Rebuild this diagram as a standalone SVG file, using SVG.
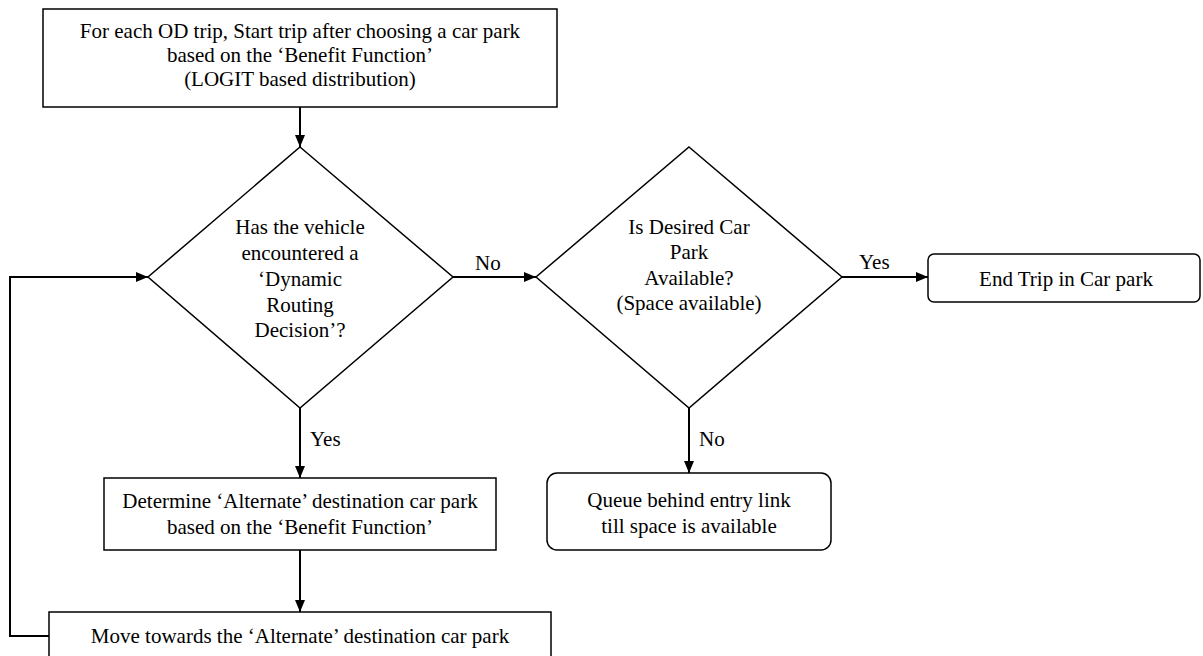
<svg xmlns="http://www.w3.org/2000/svg" width="1203" height="656" viewBox="0 0 1203 656">
<style>
.box{fill:#fff;stroke:#000;stroke-width:1.5}
.ln{fill:none;stroke:#000;stroke-width:2}
text{font-family:"Liberation Serif","Times New Roman",serif;font-size:21px;fill:#000;text-anchor:middle}
.lbl{text-anchor:start}
</style>
<defs>
<marker id="ah" viewBox="0 0 12 10" refX="12" refY="5" markerWidth="12" markerHeight="10" markerUnits="userSpaceOnUse" orient="auto"><path d="M0,0L12,5L0,10z" fill="#000"/></marker>
</defs>
<rect width="1203" height="656" fill="#fff"/>
<g id="connectors">
<line class="ln" x1="300" y1="107" x2="300" y2="147" marker-end="url(#ah)"/>
<line class="ln" x1="453" y1="277" x2="536" y2="277" marker-end="url(#ah)"/>
<line class="ln" x1="842" y1="277" x2="928" y2="277" marker-end="url(#ah)"/>
<line class="ln" x1="300" y1="408" x2="300" y2="478" marker-end="url(#ah)"/>
<line class="ln" x1="689" y1="408" x2="689" y2="473" marker-end="url(#ah)"/>
<line class="ln" x1="300" y1="550" x2="300" y2="612" marker-end="url(#ah)"/>
<polyline class="ln" points="49,636 10,636 10,277 148,277" marker-end="url(#ah)"/>
<text class="lbl" x="475" y="270">No</text>
<text class="lbl" x="859" y="269">Yes</text>
<text class="lbl" x="310" y="446">Yes</text>
<text class="lbl" x="699" y="446">No</text>
</g>
<g id="start">
<rect class="box" x="43" y="9" width="514" height="98"/>
<text x="300" y="38">For each OD trip, Start trip after choosing a car park</text>
<text x="300" y="62">based on the ‘Benefit Function’</text>
<text x="300" y="86">(LOGIT based distribution)</text>
</g>
<g id="decision1">
<polygon class="box" points="300,147 453,277 300,408 148,277"/>
<text x="300" y="234">Has the vehicle</text>
<text x="300" y="260">encountered a</text>
<text x="300" y="286">‘Dynamic</text>
<text x="300" y="312">Routing</text>
<text x="300" y="337">Decision’?</text>
</g>
<g id="decision2">
<polygon class="box" points="689,147 842,277 689,408 536,277"/>
<text x="689" y="234">Is Desired Car</text>
<text x="689" y="259">Park</text>
<text x="689" y="285">Available?</text>
<text x="689" y="310">(Space available)</text>
</g>
<g id="endtrip">
<rect class="box" x="928" y="254" width="272" height="48" rx="6"/>
<text x="1066" y="286">End Trip in Car park</text>
</g>
<g id="determine">
<rect class="box" x="104" y="478" width="392" height="72"/>
<text x="300" y="508">Determine ‘Alternate’ destination car park</text>
<text x="300" y="534">based on the ‘Benefit Function’</text>
</g>
<g id="queue">
<rect class="box" x="547" y="473" width="284" height="77" rx="10"/>
<text x="689" y="507">Queue behind entry link</text>
<text x="689" y="533">till space is available</text>
</g>
<g id="move">
<rect class="box" x="49" y="612" width="502" height="50"/>
<text x="300" y="643">Move towards the ‘Alternate’ destination car park</text>
</g>
</svg>
